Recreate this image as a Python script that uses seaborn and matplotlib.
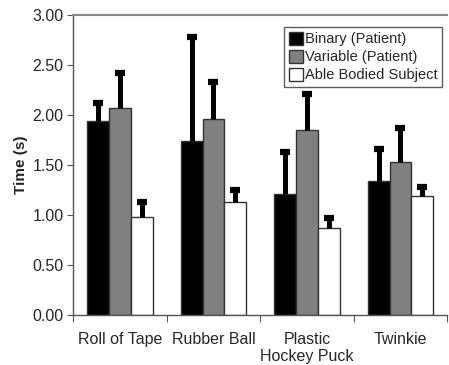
import numpy as np
import pandas as pd
import matplotlib
matplotlib.use("Agg")
import matplotlib.pyplot as plt
import seaborn as sns

# ====================== DATA ======================
objects = ["Roll of Tape", "Rubber Ball", "Plastic\nHockey Puck", "Twinkie"]
groups = ["Binary (Patient)", "Variable (Patient)", "Able Bodied Subject"]

binary_mean = [1.94, 1.74, 1.21, 1.34]
binary_err = [0.18, 1.04, 0.42, 0.32]
variable_mean = [2.07, 1.96, 1.85, 1.53]
variable_err = [0.35, 0.37, 0.36, 0.34]
able_mean = [0.98, 1.13, 0.87, 1.19]
able_err = [0.15, 0.12, 0.10, 0.09]

colors = ["#000000", "#808080", "#ffffff"]

df = pd.DataFrame({
    "object": objects * 3,
    "group": [g for g in groups for _ in objects],
    "time": binary_mean + variable_mean + able_mean,
    "err": binary_err + variable_err + able_err,
})

# ====================== PLOT ======================
sns.set_style("white")
plt.rcParams["font.family"] = ["Liberation Sans", "DejaVu Sans"]

fig, ax = plt.subplots(figsize=(4.49, 3.65), dpi=100)
fig.subplots_adjust(left=0.163, right=0.996, top=0.959, bottom=0.137)

sns.barplot(data=df, x="object", y="time", hue="group", hue_order=groups,
            order=objects, palette=colors, edgecolor="#333333", linewidth=1.0,
            width=0.7, errorbar=None, ax=ax, zorder=2)

# upper-only error bars, drawn from bar patch positions
for container, g in zip(ax.containers, groups):
    sub = df[df["group"] == g].set_index("object").loc[objects]
    xs = np.array([p.get_x() + p.get_width() / 2 for p in container])
    tops = sub["time"].values + sub["err"].values
    ax.vlines(xs, sub["time"].values, tops, colors="black", linewidth=3.6,
              zorder=3)
    ax.plot(xs, tops, linestyle="none", marker="_", markersize=7,
            markeredgewidth=4.5, color="black", zorder=3)

ax.set_ylim(0, 3.0)
ax.set_xlim(-0.5, len(objects) - 0.5)
ax.set_yticks(np.arange(0, 3.01, 0.5))
ax.set_yticklabels([f"{v:.2f}" for v in np.arange(0, 3.01, 0.5)], fontsize=11.5)
ax.set_xticks(np.arange(len(objects)))
ax.set_xticklabels(objects, fontsize=11.5)
ax.tick_params(axis="x", length=0, pad=12)
ax.tick_params(axis="y", length=4, width=0.8, color="#555555", left=True, pad=3)
# category boundary ticks on x axis
ax.set_xticks(np.arange(-0.5, len(objects), 1.0), minor=True)
ax.tick_params(axis="x", which="minor", length=5, width=0.8, color="#555555",
               bottom=True, direction="out")

ax.set_xlabel("")
ax.set_ylabel("Time (s)", fontsize=11, fontweight="bold", labelpad=3)

for s in ["left", "bottom"]:
    ax.spines[s].set_color("#555555")
    ax.spines[s].set_linewidth(1.0)
ax.spines["top"].set_color("#888888")
ax.spines["top"].set_linewidth(1.5)
ax.spines["right"].set_visible(False)

leg = ax.legend(loc="upper right", bbox_to_anchor=(0.987, 0.96), fontsize=10.5,
                frameon=True, fancybox=False, edgecolor="#333333",
                handlelength=0.95, handleheight=0.95, handletextpad=0.1,
                borderpad=0.35, labelspacing=0.25, borderaxespad=0)
leg.get_frame().set_linewidth(1.0)

plt.savefig("out.png", dpi=100)
plt.close()
